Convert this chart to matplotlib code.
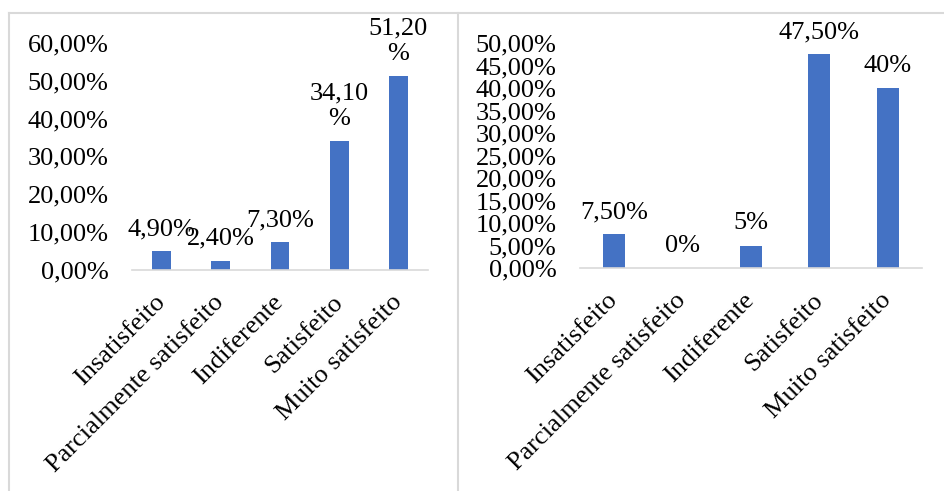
import matplotlib.pyplot as plt
import matplotlib as mpl
from matplotlib.lines import Line2D
import numpy as np

mpl.rcParams['font.family'] = ['Liberation Serif', 'DejaVu Serif']
mpl.rcParams['font.size'] = 19

DPI = 100
W, H = 945, 491
COR_BARRA = '#4472C4'
COR_BORDA = '#d9d9d9'

categorias = ['Insatisfeito', 'Parcialmente satisfeito', 'Indiferente',
              'Satisfeito', 'Muito satisfeito']

# grafico da esquerda
valores_esq = [0.049, 0.024, 0.073, 0.341, 0.512]
rotulos_esq = ['4,90%', '2,40%', '7,30%', '34,10\n%', '51,20\n%']
ticks_esq = [0.0, 0.1, 0.2, 0.3, 0.4, 0.5, 0.6]
ticklabels_esq = ['0,00%', '10,00%', '20,00%', '30,00%', '40,00%', '50,00%', '60,00%']

# grafico da direita
valores_dir = [0.075, 0.0, 0.05, 0.475, 0.40]
rotulos_dir = ['7,50%', '0%', '5%', '47,50%', '40%']
ticks_dir = [0.0, 0.05, 0.10, 0.15, 0.20, 0.25, 0.30, 0.35, 0.40, 0.45, 0.50]
ticklabels_dir = ['0,00%', '5,00%', '10,00%', '15,00%', '20,00%', '25,00%',
                  '30,00%', '35,00%', '40,00%', '45,00%', '50,00%']

fig = plt.figure(figsize=[W / DPI, H / DPI], dpi=DPI)


def px(x0, y_top, x1, y_bot):
    # converte pixels da imagem para fração da figura
    return [x0 / W, 1 - y_bot / H, (x1 - x0) / W, (y_bot - y_top) / H]


ax1 = fig.add_axes(px(132, 42.7, 428, 270))
ax2 = fig.add_axes(px(580, 43, 922, 268))

for ax, vals, rots, ticks, tlabels in [
        (ax1, valores_esq, rotulos_esq, ticks_esq, ticklabels_esq),
        (ax2, valores_dir, rotulos_dir, ticks_dir, ticklabels_dir)]:
    x = np.arange(len(categorias))
    ax.bar(x, vals, width=0.32, color=COR_BARRA, zorder=2)
    for xi, v, r in zip(x, vals, rots):
        ax.annotate(r, (xi, v), xytext=(0, 8), textcoords='offset points',
                    ha='center', va='bottom', annotation_clip=False,
                    linespacing=1.2)
    ax.set_xlim(-0.5, len(categorias) - 0.5)
    ax.set_ylim(ticks[0], ticks[-1])
    ax.set_yticks(ticks)
    ax.set_yticklabels(tlabels)
    ax.set_xticks(x)
    ax.set_xticklabels(categorias, rotation=45, ha='right', va='center',
                       rotation_mode='anchor')
    ax.tick_params(axis='y', length=0, pad=17)
    ax.tick_params(axis='x', length=0, pad=21)
    for s in ['top', 'right', 'left']:
        ax.spines[s].set_visible(False)
    ax.spines['bottom'].set_color(COR_BORDA)
    ax.spines['bottom'].set_linewidth(1.2)
    ax.patch.set_alpha(0)

# bordas dos quadros
bordas = [([9, 945], [13, 13]), ([9, 9], [13, 491]), ([458, 458], [13, 491])]
for xs, ys in bordas:
    fig.add_artist(Line2D([v / W for v in xs], [1 - v / H for v in ys],
                          color=COR_BORDA, linewidth=1.5,
                          transform=fig.transFigure))

fig.savefig('out.png', dpi=DPI)
